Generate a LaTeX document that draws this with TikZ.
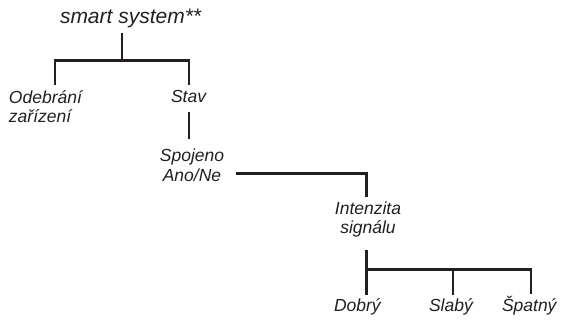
\documentclass[tikz,border=0pt]{standalone}
\usepackage{fontspec}
\setmainfont{Liberation Sans}
\definecolor{ink}{HTML}{231F20}
\begin{document}
\begin{tikzpicture}[x=1pt,y=-1pt,
  lbl/.style={inner sep=0pt,outer sep=0pt,text=ink,font=\fontsize{17.5}{19.5}\selectfont\itshape},
  toplbl/.style={inner sep=0pt,outer sep=0pt,text=ink,font=\fontsize{21}{24}\selectfont\itshape},
  conn/.style={draw=ink,line width=2.3pt,line cap=butt,line join=miter}]
\useasboundingbox (0,0) rectangle (562,320);
% nodes (multi-line nodes: base = baseline of last line)
\node[toplbl,anchor=base west] (root) at (60,23.5) {smart system**};
\node[lbl,anchor=base west,align=left] (odeb) at (9,123) {Odebrání\\zařízení};
\node[lbl,anchor=base west] (stav) at (171,103) {Stav};
\node[lbl,anchor=base,align=center] (spoj) at (192,181.5) {Spojeno\\Ano/Ne};
\node[lbl,anchor=base,align=center] (inten) at (368,234) {Intenzita\\signálu};
\node[lbl,anchor=base west] (dobry) at (334,312) {Dobrý};
\node[lbl,anchor=base west] (slaby) at (429,312) {Slabý};
\node[lbl,anchor=base west] (spatny) at (502,312) {Špatný};
% connector points
\coordinate (rootB) at (122,33);
\coordinate (rootJ) at (122,60.5);
\coordinate (odebT) at (55,85);
\coordinate (stavT) at (189,85);
\coordinate (stavB) at (189,112);
\coordinate (spojT) at (189,139);
\coordinate (spojR) at (236,173.5);
\coordinate (intenT) at (366.5,197);
\coordinate (intenB) at (366.5,250);
\coordinate (dobryT) at (366.5,295);
\coordinate (slabyT) at (453,295);
\coordinate (spatnyT) at (531,294);
% connectors
\draw[conn] (rootB) -- (rootJ);
\draw[conn] (odebT) |- (rootJ) -| (stavT);
\draw[conn] (stavB) -- (spojT);
\draw[conn] (spojR) -| (intenT);
\draw[conn] (intenB) -- (dobryT);
\draw[conn] (dobryT |- 0,269.5) -| (spatnyT);
\draw[conn] (slabyT |- 0,269.5) -- (slabyT);
\end{tikzpicture}
\end{document}
